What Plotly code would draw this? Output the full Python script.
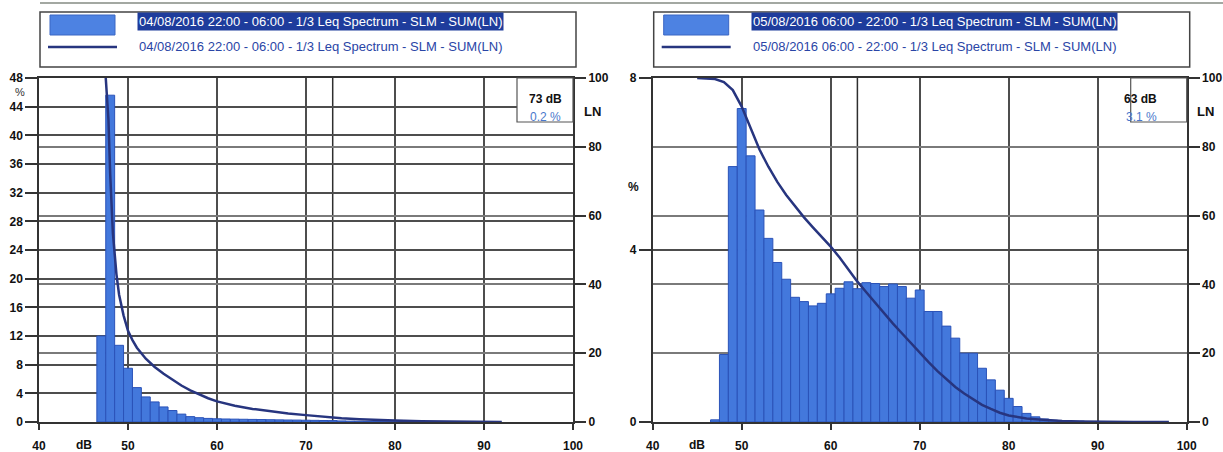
import plotly.graph_objects as go

# ---- data -------------------------------------------------------------
# 1/3 Leq spectrum level distribution, 1 dB classes (% of time)
levels_night = list(range(47, 86))
pct_night = [12.0, 45.6, 10.7, 7.5, 4.8, 3.5, 2.8, 2.1, 1.6, 1.1,
             0.75, 0.6, 0.5, 0.45, 0.42, 0.4, 0.38, 0.36, 0.34, 0.32,
             0.3, 0.28, 0.27, 0.25, 0.23, 0.21, 0.2, 0.15, 0.12, 0.1,
             0.08, 0.06, 0.05, 0.04, 0.03, 0.03, 0.02, 0.02, 0.01]

levels_day = list(range(47, 91))
pct_day = [0.05, 1.57, 5.94, 7.29, 6.19, 4.93, 4.27, 3.71, 3.32, 2.90,
           2.80, 2.70, 2.76, 2.98, 3.11, 3.26, 3.10, 3.24, 3.22, 3.15,
           3.21, 3.15, 2.88, 3.07, 2.57, 2.57, 2.23, 1.95, 1.60, 1.60,
           1.25, 0.98, 0.74, 0.55, 0.36, 0.20, 0.12, 0.07, 0.04, 0.03,
           0.02, 0.02, 0.01, 0.01]

# cumulative exceedance curves LN (%)
ln_night_db = [47.5, 47.8, 48.0, 48.3, 48.7, 49.0, 49.5, 50, 50.5, 51, 52, 53,
               54, 55, 56, 57, 58, 59, 60, 62, 64, 66, 68, 70, 72, 74, 76, 78,
               80, 83, 86, 90, 92]
ln_night = [100, 88, 72, 55, 43, 37, 31, 26.5, 23.8, 21.6, 18.4, 16.0,
            14.0, 12.2, 10.6, 9.2, 8.0, 6.9, 6.0, 4.7, 3.8, 3.1, 2.5, 2.0, 1.5, 1.1, 0.8, 0.55,
            0.4, 0.22, 0.1, 0.02, 0]

ln_day_db = [45, 46, 47, 48, 49, 50, 51, 52, 53, 54, 55, 56, 57, 58, 59, 60,
             61, 62, 63, 64, 65, 66, 67, 68, 69, 70, 71, 72, 73, 74, 75, 76,
             77, 78, 79, 80, 81, 82, 83, 84, 86, 88, 90, 94, 98]
ln_day = [100, 99.9, 99.7, 98.8, 96.5, 91.7, 85.2, 79.2, 74.2, 69.8, 66.0, 62.6, 59.5, 56.6, 53.8, 51.0,
          47.8, 44.3, 40.8, 37.7, 34.6, 31.5, 28.6, 25.8, 22.9, 20.0, 17.4, 14.8, 12.4, 10.2, 8.3, 6.6,
          5.0, 3.8, 2.7, 1.9, 1.35, 1.0, 0.8, 0.6, 0.3, 0.15, 0.05, 0.02, 0]

legend_labels = ["04/08/2016 22:00 - 06:00 - 1/3 Leq Spectrum - SLM - SUM(LN)",
                 "05/08/2016 06:00 - 22:00 - 1/3 Leq Spectrum - SLM - SUM(LN)"]
cursor_db = [73, 63]
cursor_pct = ["0.2 %", "3.1 %"]

x_ticks = list(range(40, 101, 10))
pct_ticks_night = list(range(0, 49, 4))
pct_ticks_day = [0, 4, 8]
ln_ticks = list(range(0, 101, 20))

# ---- styling ----------------------------------------------------------
W, H = 1223, 452
FONT = "Liberation Sans, Arial, sans-serif"
BAR_FILL = "#4378dc"
BAR_EDGE = "#2a52b8"
LN_COLOR = "#27357f"
GRID_MAIN = "#4d4d4d"
GRID_SEC = "#7a7a7a"
AXIS_LINE = "#333333"


def px(x):
    return x / W


def py(y):
    return 1 - y / H


PLOT_TOP, PLOT_BOT = 78, 422
panels = [
    dict(x0=39, x1=573),
    dict(x0=652.7, x1=1186.7),
]

fig = go.Figure()

bar_style = dict(width=1, marker=dict(color=BAR_FILL, line=dict(color=BAR_EDGE, width=1)),
                 showlegend=False, hoverinfo="x+y")
fig.add_trace(go.Bar(x=levels_night, y=pct_night, xaxis="x", yaxis="y", **bar_style))
fig.add_trace(go.Scatter(x=ln_night_db, y=ln_night, xaxis="x", yaxis="y2", mode="lines",
                         line=dict(color=LN_COLOR, width=2.5), showlegend=False))
fig.add_trace(go.Bar(x=levels_day, y=pct_day, xaxis="x2", yaxis="y3", **bar_style))
fig.add_trace(go.Scatter(x=ln_day_db, y=ln_day, xaxis="x2", yaxis="y4", mode="lines",
                         line=dict(color=LN_COLOR, width=2.5), showlegend=False))

tickfont = dict(family=FONT, size=12, color="#111111", weight="bold")
y_dom = [py(PLOT_BOT), py(PLOT_TOP)]


def xaxis(p, anchor):
    return dict(domain=[px(p["x0"]), px(p["x1"])], anchor=anchor, range=[40, 100],
                tickvals=x_ticks, ticks="outside", ticklen=6, tickwidth=1.5,
                ticklabelstandoff=6,
                tickcolor=AXIS_LINE, tickfont=tickfont, showline=True, mirror=True,
                linecolor=AXIS_LINE, linewidth=1.5, showgrid=True, gridcolor=GRID_MAIN,
                gridwidth=1.5, zeroline=False, fixedrange=True, automargin=False)


def yaxis_left(anchor, top, ticks):
    return dict(domain=y_dom, anchor=anchor, range=[0, top], tickvals=ticks,
                ticks="outside", ticklen=12, tickwidth=1.5, tickcolor=AXIS_LINE,
                tickfont=tickfont, showline=True, mirror=True, linecolor=AXIS_LINE,
                linewidth=1.5, showgrid=True, gridcolor=GRID_MAIN, gridwidth=1.5,
                zeroline=False, fixedrange=True, automargin=False)


def yaxis_right(anchor, over):
    return dict(overlaying=over, side="right", anchor=anchor, range=[0, 100],
                tickvals=ln_ticks, ticks="outside", ticklen=12, tickwidth=1.5,
                tickcolor=AXIS_LINE, tickfont=tickfont, showgrid=True, gridcolor=GRID_SEC,
                gridwidth=1.5, zeroline=False, showline=False, fixedrange=True,
                automargin=False)


shapes = []
annotations = []

# faint rule along the top edge of the sheet
shapes.append(dict(type="line", xref="paper", yref="paper", x0=px(40), x1=1,
                   y0=py(3), y1=py(3), line=dict(color="#a3a8a2", width=2)))

for i, p in enumerate(panels):
    xref = "x" if i == 0 else "x2"
    # legend frame
    lx0 = p["x0"] + 1
    lx1 = p["x1"] + 3
    shapes.append(dict(type="rect", xref="paper", yref="paper",
                       x0=px(lx0), x1=px(lx1), y0=py(67), y1=py(12),
                       line=dict(color="#444444", width=1.5), fillcolor="white"))
    # histogram swatch
    shapes.append(dict(type="rect", xref="paper", yref="paper",
                       x0=px(lx0 + 10), x1=px(lx0 + 75), y0=py(35), y1=py(15),
                       line=dict(color="#3a66c4", width=1), fillcolor="#4d82e2"))
    # LN swatch
    shapes.append(dict(type="line", xref="paper", yref="paper",
                       x0=px(lx0 + 8), x1=px(lx0 + 77), y0=py(47), y1=py(47),
                       line=dict(color=LN_COLOR, width=2.5)))
    annotations.append(dict(xref="paper", yref="paper", x=px(lx0 + 97), y=py(21),
                            xanchor="left", yanchor="middle", showarrow=False,
                            text=legend_labels[i], bgcolor="#1e3c9c", borderpad=1,
                            font=dict(family=FONT, size=13, color="white")))
    annotations.append(dict(xref="paper", yref="paper", x=px(lx0 + 97), y=py(46),
                            xanchor="left", yanchor="middle", showarrow=False,
                            text=legend_labels[i],
                            font=dict(family=FONT, size=13, color="#2a45a6")))

    # cursor line and readout box
    shapes.append(dict(type="line", xref=xref, yref="paper", x0=cursor_db[i], x1=cursor_db[i],
                       y0=py(PLOT_BOT), y1=py(PLOT_TOP), layer="below",
                       line=dict(color="#2e2e2e", width=1.5)))
    bx0 = p["x1"] - 56
    shapes.append(dict(type="rect", xref="paper", yref="paper",
                       x0=px(bx0), x1=px(p["x1"]), y0=py(122), y1=py(PLOT_TOP),
                       line=dict(color="#555555", width=1.2), fillcolor="white"))
    annotations.append(dict(xref="paper", yref="paper", x=px(bx0 + 28), y=py(90),
                            showarrow=False, text=f"{cursor_db[i]} dB",
                            font=dict(family=FONT, size=12, color="#111111", weight="bold")))
    annotations.append(dict(xref="paper", yref="paper", x=px(bx0 + 28), y=py(108),
                            showarrow=False, text=cursor_pct[i],
                            font=dict(family=FONT, size=12, color="#4a78cc")))

    # axis captions
    annotations.append(dict(xref="paper", yref="paper", x=px(p["x1"] + 19), y=py(112),
                            xanchor="center", yanchor="middle",
                            showarrow=False, text="LN",
                            font=dict(family=FONT, size=13, color="#111111", weight="bold")))
    annotations.append(dict(xref=xref, yref="paper", x=45, y=py(445), showarrow=False,
                            xanchor="center", yanchor="middle", text="dB",
                            font=dict(family=FONT, size=12, color="#111111", weight="bold")))

annotations.append(dict(xref="paper", yref="paper", x=px(20), y=py(92), showarrow=False,
                        xanchor="center", yanchor="middle",
                        text="%", font=dict(family=FONT, size=11, color="#333333")))
annotations.append(dict(xref="paper", yref="paper", x=px(633), y=py(187), showarrow=False,
                        xanchor="center", yanchor="middle",
                        text="%", font=dict(family=FONT, size=12, color="#111111", weight="bold")))

fig.update_layout(
    width=W, height=H,
    margin=dict(l=0, r=0, t=0, b=0),
    paper_bgcolor="white", plot_bgcolor="white",
    showlegend=False,
    xaxis=xaxis(panels[0], "y"),
    yaxis=yaxis_left("x", 48, pct_ticks_night),
    yaxis2=yaxis_right("x", "y"),
    xaxis2=xaxis(panels[1], "y3"),
    yaxis3=yaxis_left("x2", 8, pct_ticks_day),
    yaxis4=yaxis_right("x2", "y3"),
    shapes=shapes,
    annotations=annotations,
    font=dict(family=FONT),
)

fig.write_html("out.html", config={"displayModeBar": False})
